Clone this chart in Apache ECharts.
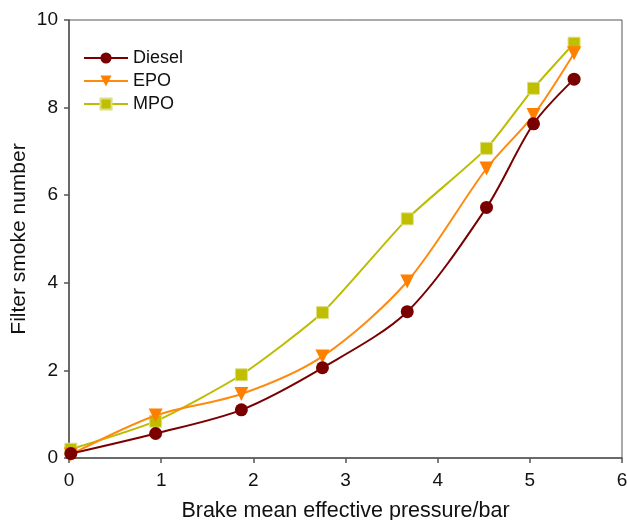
<!DOCTYPE html>
<html><head><meta charset="utf-8">
<script src="https://cdn.jsdelivr.net/npm/echarts@6/dist/echarts.min.js"></script>
<style>html,body{margin:0;padding:0;background:#fff}#c{width:627px;height:520px}</style>
</head><body><div id="c"></div>
<script>
const xTicks = [0, 1, 2, 3, 4, 5, 6];
const yTicks = [0, 2, 4, 6, 8, 10];
const pressure = [0.02, 0.94, 1.87, 2.75, 3.67, 4.53, 5.04, 5.48];
const diesel = [0.1, 0.56, 1.1, 2.06, 3.34, 5.72, 7.63, 8.65];
const epo = [0.08, 0.97, 1.46, 2.32, 4.03, 6.61, 7.83, 9.24];
const mpo = [0.2, 0.84, 1.9, 3.32, 5.46, 7.07, 8.44, 9.47];

const font = 'Liberation Sans, Arial, Helvetica, sans-serif';
const chart = echarts.init(document.getElementById('c'));
function pts(ys){ return pressure.map((x,i)=>[x, ys[i]]); }
chart.setOption({
  animation: false,
  grid: {left: 69, right: 5, top: 20, bottom: 62, show: true, borderColor: '#555', borderWidth: 1,
         containLabel: false, outerBoundsMode: 'none'},
  legend: {
    left: 78, top: 44, orient: 'vertical', itemGap: 5, itemWidth: 44, itemHeight: 14,
    textStyle: {fontFamily: font, fontSize: 18, color: '#111'},
    data: ['Diesel', 'EPO', 'MPO']
  },
  xAxis: {
    type: 'value', min: 0, max: 6, interval: 1,
    name: 'Brake mean effective pressure/bar', nameLocation: 'middle', nameGap: 42, nameMoveOverlap: false,
    nameTextStyle: {fontFamily: font, fontSize: 21.5, color: '#111'},
    axisLine: {lineStyle: {color: '#555', width: 1.5}},
    axisTick: {show: true, length: 5, lineStyle: {color: '#555', width: 1.5}},
    axisLabel: {fontFamily: font, fontSize: 19, color: '#111', margin: 13},
    splitLine: {show: false}
  },
  yAxis: {
    type: 'value', min: 0, max: 10, interval: 2,
    name: 'Filter smoke number', nameLocation: 'middle', nameGap: 39, nameMoveOverlap: false,
    nameTextStyle: {fontFamily: font, fontSize: 21, color: '#111'},
    axisLine: {show: true, lineStyle: {color: '#555', width: 1.5}},
    axisTick: {show: true, length: 5, lineStyle: {color: '#555', width: 1.5}},
    axisLabel: {fontFamily: font, fontSize: 19, color: '#111', margin: 11},
    splitLine: {show: false}
  },
  series: [
    {name: 'MPO', type: 'line', data: pts(mpo), smooth: 0.2, symbol: 'rect', symbolSize: 12,
     lineStyle: {color: '#bcbc00', width: 2}, itemStyle: {color: '#bfbf00', borderColor: '#dede88', borderWidth: 1}, z: 2},
    {name: 'EPO', type: 'line', data: pts(epo), smooth: 0.3, symbol: 'triangle', symbolRotate: 180, symbolSize: 14,
     lineStyle: {color: '#ff8a10', width: 2}, itemStyle: {color: '#ff8000'}, z: 3},
    {name: 'Diesel', type: 'line', data: pts(diesel), smooth: 0.3, symbol: 'circle', symbolSize: 13,
     lineStyle: {color: '#7a0000', width: 2}, itemStyle: {color: '#7a0000'}, z: 4}
  ]
});
</script></body></html>
